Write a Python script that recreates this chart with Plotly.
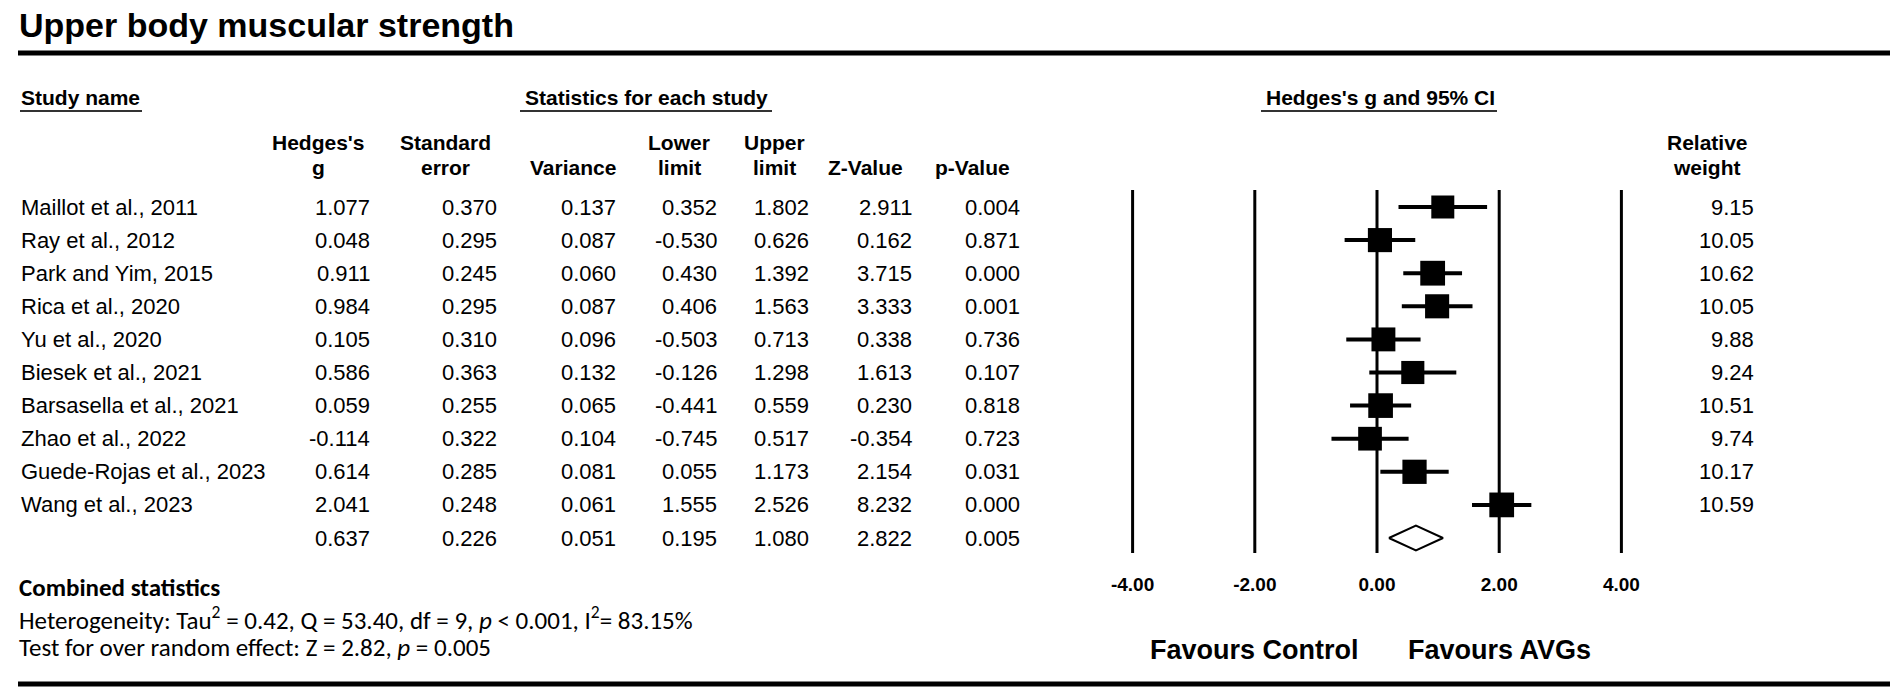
import plotly.graph_objects as go

W, H = 1902, 699

# ---- data ----
studies = ["Maillot et al., 2011", "Ray et al., 2012", "Park and Yim, 2015", "Rica et al., 2020",
           "Yu et al., 2020", "Biesek et al., 2021", "Barsasella et al., 2021", "Zhao et al., 2022",
           "Guede-Rojas et al., 2023", "Wang et al., 2023"]
hedges_g = [1.077, 0.048, 0.911, 0.984, 0.105, 0.586, 0.059, -0.114, 0.614, 2.041]
std_err = [0.370, 0.295, 0.245, 0.295, 0.310, 0.363, 0.255, 0.322, 0.285, 0.248]
variance = [0.137, 0.087, 0.060, 0.087, 0.096, 0.132, 0.065, 0.104, 0.081, 0.061]
lower = [0.352, -0.530, 0.430, 0.406, -0.503, -0.126, -0.441, -0.745, 0.055, 1.555]
upper = [1.802, 0.626, 1.392, 1.563, 0.713, 1.298, 0.559, 0.517, 1.173, 2.526]
z_value = [2.911, 0.162, 3.715, 3.333, 0.338, 1.613, 0.230, -0.354, 2.154, 8.232]
p_value = [0.004, 0.871, 0.000, 0.001, 0.736, 0.107, 0.818, 0.723, 0.031, 0.000]
rel_weight = [9.15, 10.05, 10.62, 10.05, 9.88, 9.24, 10.51, 9.74, 10.17, 10.59]

# pooled (random effect)
pooled = {"g": 0.637, "se": 0.226, "var": 0.051, "lo": 0.195, "hi": 1.080, "z": 2.822, "p": 0.005}

header_top = ["Hedges's", "Standard", "", "Lower", "Upper", "", ""]
header_bottom = ["g", "error", "Variance", "limit", "limit", "Z-Value", "p-Value"]
x_ticks = [-4, -2, 0, 2, 4]

# ---- layout helpers (pixel positions on the 1902x699 page) ----
ARIAL = "Arial, Liberation Sans, sans-serif"
CALIBRI = "Carlito, Lato, sans-serif"
ROW0, ROWH = 207, 33.1          # pixel y of first study row, row height
ZERO_PX, UNIT_PX = 1377, 61.1   # forest plot: pixel of x=0 and px per unit


def px(x):
    return x / W


def py(y):
    return 1 - y / H


def row_of(y):
    return (y - ROW0) / ROWH


col_right = [372, 499, 618, 719, 811, 914, 1022]
col_head = [318, 445, 573, 679, 774, 865, 972]

fig = go.Figure()

# confidence interval bars
ci_x, ci_y = [], []
for i in range(len(studies)):
    ci_x += [lower[i], upper[i], None]
    ci_y += [i, i, None]
fig.add_trace(go.Scatter(x=ci_x, y=ci_y, mode="lines", line=dict(color="black", width=4),
                         hoverinfo="skip"))

# study squares, sized by relative weight
fig.add_trace(go.Scatter(
    x=hedges_g, y=list(range(len(studies))), mode="markers",
    marker=dict(symbol="square", color="black", opacity=1,
                size=[23 * (w / 9.15) ** 0.5 for w in rel_weight],
                line=dict(width=0)),
    text=studies, hoverinfo="text+x"))

# pooled diamond
n = len(studies)
half = 12.5 / ROWH
fig.add_trace(go.Scatter(
    x=[pooled["lo"], pooled["g"], pooled["hi"], pooled["g"], pooled["lo"]],
    y=[n, n - half, n, n + half, n],
    mode="lines", fill="toself", fillcolor="white",
    line=dict(color="black", width=2), hoverinfo="skip"))

shapes = []
# forest plot vertical lines
for t in x_ticks:
    shapes.append(dict(type="line", xref="x", yref="y", x0=t, x1=t,
                       y0=row_of(190), y1=row_of(553), line=dict(color="black", width=3)))
# thick rules
for yy in (53, 684):
    shapes.append(dict(type="line", xref="paper", yref="paper", x0=px(18), x1=px(1890),
                       y0=py(yy), y1=py(yy), line=dict(color="black", width=5)))
# header underlines
for x0, x1 in ((20, 142), (520, 772), (1261, 1497)):
    shapes.append(dict(type="line", xref="paper", yref="paper", x0=px(x0), x1=px(x1),
                       y0=py(111), y1=py(111), line=dict(color="#333333", width=2)))

ann = []


def txt(text, x, y, size, bold=False, anchor="left", family=ARIAL, xref="paper"):
    ann.append(dict(text=f"<b>{text}</b>" if bold else text, x=x, y=y, xref=xref, yref="y",
                    xanchor=anchor, yanchor="middle", showarrow=False,
                    font=dict(family=family, size=size, color="black")))


# title
txt("Upper body muscular strength", px(17), row_of(25), 34, bold=True)
# section headers
txt("Study name", px(19), row_of(97), 21, bold=True)
txt("Statistics for each study", px(646), row_of(97), 21, bold=True, anchor="center")
txt("Hedges's g and 95% CI", 0.05, row_of(97), 21, bold=True, anchor="center", xref="x")
# column headers
for top, bottom, cx in zip(header_top, header_bottom, col_head):
    if top:
        txt(top, px(cx), row_of(142), 21, bold=True, anchor="center")
    txt(bottom, px(cx), row_of(167), 21, bold=True, anchor="center")
txt("Relative", px(1707), row_of(142), 21, bold=True, anchor="center")
txt("weight", px(1707), row_of(167), 21, bold=True, anchor="center")

# table rows
for i, name in enumerate(studies):
    txt(name, px(19), i, 22)
    vals = [hedges_g[i], std_err[i], variance[i], lower[i], upper[i], z_value[i], p_value[i]]
    for v, xr in zip(vals, col_right):
        txt(f"{v:.3f}", px(xr), i, 22, anchor="right")
    txt(f"{rel_weight[i]:.2f}", px(1756), i, 22, anchor="right")
pooled_vals = [pooled["g"], pooled["se"], pooled["var"], pooled["lo"], pooled["hi"], pooled["z"], pooled["p"]]
for v, xr in zip(pooled_vals, col_right):
    txt(f"{v:.3f}", px(xr), n, 22, anchor="right")

# favours labels
txt("Favours Control", -2, row_of(650), 27, bold=True, anchor="center", xref="x")
txt("Favours AVGs", 2, row_of(650), 27, bold=True, anchor="center", xref="x")

# combined statistics
txt("Combined statistics", px(17), row_of(587), 25, bold=True, family=CALIBRI)
txt("Heterogeneity: Tau<sup>2</sup> = 0.42, Q = 53.40, df = 9, <i>p</i> < 0.001, I<sup>2</sup>= 83.15%",
    px(17), row_of(618), 25, family=CALIBRI)
txt("Test for over random effect: Z = 2.82, <i>p</i> = 0.005", px(17), row_of(647), 25, family=CALIBRI)

fig.update_layout(
    width=W, height=H,
    margin=dict(l=0, r=0, t=0, b=0),
    paper_bgcolor="white", plot_bgcolor="white",
    showlegend=False,
    shapes=shapes, annotations=ann,
    xaxis=dict(range=[-ZERO_PX / UNIT_PX, (W - ZERO_PX) / UNIT_PX], domain=[0, 1],
               anchor="free", position=py(571),
               tickvals=x_ticks, ticktext=[f"<b>{t:.2f}</b>" for t in x_ticks],
               tickfont=dict(family=ARIAL, size=19, color="black"),
               showgrid=False, zeroline=False, showline=False, ticks=""),
    yaxis=dict(range=[row_of(H), row_of(0)], domain=[0, 1],
               showgrid=False, zeroline=False, showticklabels=False, showline=False),
)

# drop the default page margin so the figure sits at the window's top-left corner
fig.write_html("out.html", config={"displayModeBar": False},
               post_script="document.body.style.margin='0';"
                           "document.body.style.overflow='hidden';")
